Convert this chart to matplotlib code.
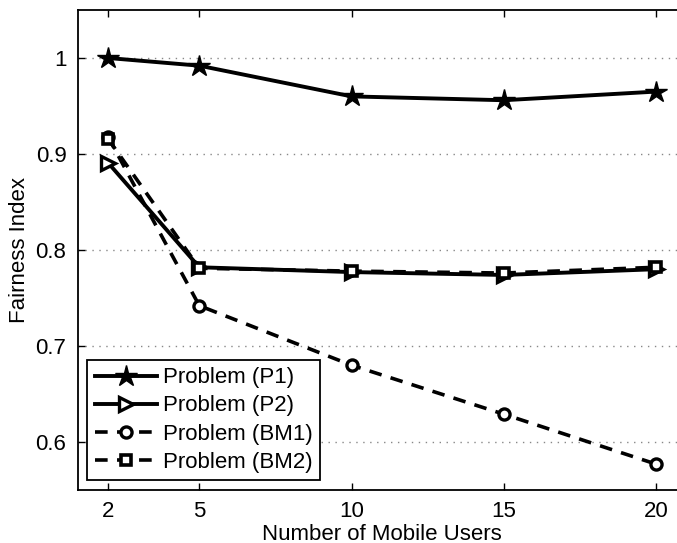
import matplotlib
matplotlib.use("Agg")
import matplotlib.pyplot as plt

plt.rcParams['font.family'] = ['Liberation Sans', 'DejaVu Sans']

users = [2, 5, 10, 15, 20]
fair_p1 = [1.000, 0.992, 0.960, 0.956, 0.965]
fair_p2 = [0.891, 0.782, 0.777, 0.774, 0.780]
fair_bm1 = [0.918, 0.742, 0.680, 0.629, 0.577]
fair_bm2 = [0.916, 0.781, 0.778, 0.776, 0.782]
labels = ['Problem (P1)', 'Problem (P2)', 'Problem (BM1)', 'Problem (BM2)']

fig = plt.figure(figsize=(6.77, 5.43), dpi=100)
ax = fig.add_axes([0.1145, 0.0976, 0.8994, 0.884])

ax.plot(users, fair_p1, color='black', lw=2.8, marker='*', ms=16,
        label=labels[0])
ax.plot(users, fair_p2, color='black', lw=2.8, marker='>', ms=10,
        mfc='white', mew=2.4, label=labels[1])
ax.plot(users, fair_bm1, color='black', lw=2.6, ls=(0, (3.5, 2.6)),
        marker='o', ms=8, mfc='white', mew=2.4, label=labels[2])
ax.plot(users, fair_bm2, color='black', lw=2.6, ls=(0, (3.5, 2.6)),
        marker='s', ms=7, mfc='white', mew=2.6, label=labels[3])

ax.set_xlim(1, 21)
ax.set_ylim(0.55, 1.05)
ax.set_xticks(users)
ax.set_xticklabels([str(u) for u in users])
ax.set_yticks([0.6, 0.7, 0.8, 0.9, 1.0])
ax.set_yticklabels(['0.6', '0.7', '0.8', '0.9', '1'])
ax.tick_params(direction='in', top=True, right=True, length=5, width=1,
               labelsize=16, pad=8)
ax.yaxis.grid(True, linestyle=(0, (1, 4)), color='#888888', lw=1)
for s in ax.spines.values():
    s.set_linewidth(1.3)

ax.set_xlabel('Number of Mobile Users', fontsize=16, labelpad=1)
ax.set_ylabel('Fairness Index', fontsize=16, labelpad=4)

leg = ax.legend(loc='lower left', bbox_to_anchor=(0.016, 0.02),
                fontsize=16, handlelength=2.8, handletextpad=0.25,
                labelspacing=0.32, borderpad=0.35, borderaxespad=0,
                fancybox=False, framealpha=1, edgecolor='black')
leg.get_frame().set_linewidth(1.3)

fig.savefig('out.png', dpi=100)
